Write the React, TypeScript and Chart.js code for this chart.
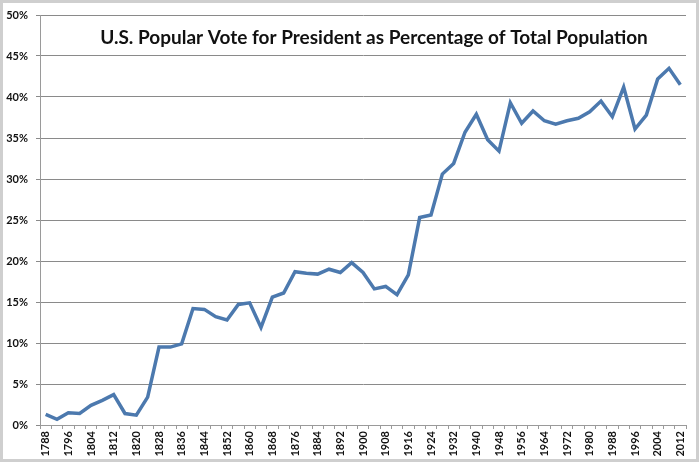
import React, { useEffect, useRef } from "react";
import { Chart, registerables } from "chart.js";

Chart.register(...registerables);

const years: string[] = [
  "1788", "1792", "1796", "1800", "1804", "1808", "1812", "1816", "1820", "1824",
  "1828", "1832", "1836", "1840", "1844", "1848", "1852", "1856", "1860", "1864",
  "1868", "1872", "1876", "1880", "1884", "1888", "1892", "1896", "1900", "1904",
  "1908", "1912", "1916", "1920", "1924", "1928", "1932", "1936", "1940", "1944",
  "1948", "1952", "1956", "1960", "1964", "1968", "1972", "1976", "1980", "1984",
  "1988", "1992", "1996", "2000", "2004", "2008", "2012",
];

const votePct: number[] = [
  1.3, 0.7, 1.5, 1.4, 2.4, 3.0, 3.7, 1.4, 1.2, 3.4,
  9.5, 9.5, 9.9, 14.2, 14.1, 13.2, 12.8, 14.7, 14.9, 11.9,
  15.6, 16.1, 18.7, 18.5, 18.4, 19.0, 18.6, 19.8, 18.6, 16.6,
  16.9, 15.9, 18.3, 25.3, 25.6, 30.6, 31.9, 35.7, 37.9, 34.8,
  33.4, 39.3, 36.8, 38.3, 37.1, 36.7, 37.1, 37.4, 38.2, 39.5,
  37.6, 41.2, 36.1, 37.8, 42.2, 43.5, 41.5,
];

const titleText = "U.S. Popular Vote for President as Percentage of Total Population";

const decorPlugin = {
  id: "decor",
  afterDraw(chart: any) {
    const { ctx, width, height } = chart;
    ctx.save();
    ctx.font = "bold 19px Lato";
    ctx.fillStyle = "#111";
    ctx.textAlign = "center";
    ctx.textBaseline = "middle";
    ctx.fillText(titleText, 374, 38);
    ctx.strokeStyle = "#cfcfcf";
    ctx.lineWidth = 3;
    ctx.strokeRect(1.5, 1.5, width - 3, height - 3);
    ctx.restore();
  },
};

export default function App() {
  const ref = useRef<HTMLCanvasElement>(null);
  useEffect(() => {
    document.body.style.margin = "0";
    const chart = new Chart(ref.current!, {
      type: "line",
      data: {
        labels: years,
        datasets: [
          {
            data: votePct,
            borderColor: "#4C79AE",
            borderWidth: 3.5,
            pointRadius: 0,
            tension: 0,
            fill: false,
          },
        ],
      },
      options: {
        animation: false,
        responsive: false,
        maintainAspectRatio: false,
        layout: { padding: { top: 15, right: 13, left: 0, bottom: 0 } },
        plugins: { legend: { display: false }, title: { display: false }, tooltip: { enabled: false } },
        scales: {
          x: {
            type: "category",
            offset: true,
            afterFit(scale: any) {
              scale.height = 37;
            },
            grid: {
              offset: true,
              drawOnChartArea: false,
              drawTicks: true,
              tickLength: 4,
              color: "#9a9a9a",
            },
            border: { display: true, color: "#9a9a9a", width: 1 },
            ticks: {
              autoSkip: false,
              maxRotation: 90,
              minRotation: 90,
              padding: 2,
              color: "#111",
              font: { family: "Lato", size: 11, weight: "bold" },
              callback: (_v: any, i: number) => (i % 2 === 0 ? years[i] : ""),
            },
          },
          y: {
            min: 0,
            max: 50,
            afterFit(scale: any) {
              scale.width = 40;
            },
            grid: {
              color: "#8a8a8a",
              lineWidth: 1,
              drawTicks: true,
              tickLength: 4,
            },
            border: { display: true, color: "#9a9a9a", width: 1 },
            ticks: {
              stepSize: 5,
              padding: 8,
              color: "#111",
              font: { family: "Lato", size: 11, weight: "bold" },
              callback: (v: any) => v + "%",
            },
          },
        },
      },
      plugins: [decorPlugin],
    });
    return () => chart.destroy();
  }, []);
  return (
    <div style={{ width: 699, height: 462, background: "#fff" }}>
      <canvas ref={ref} width={699} height={462} style={{ display: "block" }} />
    </div>
  );
}
